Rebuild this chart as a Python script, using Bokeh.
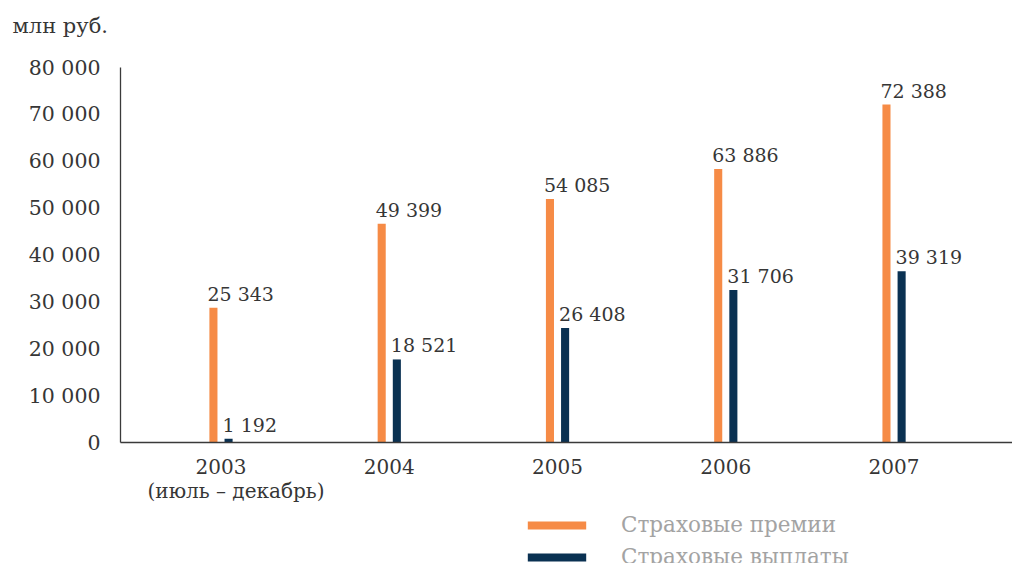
from bokeh.plotting import figure
from bokeh.models import FixedTicker, Legend, LegendItem, ColumnDataSource, GlobalInlineStyleSheet, Label
from bokeh.core.properties import value
from bokeh.embed import file_html
from bokeh.resources import INLINE

# ---- data ----
year_labels = ["2003\n\u2003\u2002(июль – декабрь)", "2004", "2005", "2006", "2007"]
premiums = [28800, 46700, 52000, 58400, 72100]      # bar heights as drawn
payouts = [900, 17800, 24500, 32600, 36600]         # bar heights as drawn
premium_labels = ["25 343", "49 399", "54 085", "63 886", "72 388"]
payout_labels = ["1 192", "18 521", "26 408", "31 706", "39 319"]
y_ticks = [0, 10000, 20000, 30000, 40000, 50000, 60000, 70000, 80000]
y_tick_labels = ["0", "10 000", "20 000", "30 000", "40 000", "50 000", "60 000", "70 000", "80 000"]
series_names = ["Страховые премии", "Страховые выплаты"]
unit_title = "млн руб."

FONT = "DejaVu Serif"
TXT = "#363636"
ORANGE = "#F68B46"
NAVY = "#0A3152"

idx = list(range(len(year_labels)))
off = 0.045
bw = 0.048

# scales: 168.25 px per category, 0.0046937 px per unit on y
X0 = -1.3105          # left edge of canvas
Y_AXIS_X = -0.5973    # where the y axis sits
src_p = ColumnDataSource(dict(x=[i - off for i in idx], top=premiums, lab=premium_labels))
src_v = ColumnDataSource(dict(x=[i + off for i in idx], top=payouts, lab=payout_labels))

p = figure(width=1012, height=563, output_backend="svg", toolbar_location=None,
           x_range=(X0, 4.704), y_range=(-25673, 94275),
           min_border_left=0, min_border_right=0, min_border_top=0, min_border_bottom=0)
p.stylesheets = [GlobalInlineStyleSheet(css="html, body { overflow: hidden; }")]

p.outline_line_color = None
p.grid.visible = False
p.background_fill_color = "white"

r1 = p.vbar(x="x", top="top", width=bw, bottom=0, source=src_p, fill_color=ORANGE, line_color=None)
r2 = p.vbar(x="x", top="top", width=bw, bottom=0, source=src_v, fill_color=NAVY, line_color=None)

for src in (src_p, src_v):
    p.text(x="x", y="top", text="lab", source=src, text_font=value(FONT), text_font_size="19px",
           text_color=TXT, text_align="left", text_baseline="alphabetic",
           x_offset=-6, y_offset=-14)

# y axis at the left
p.yaxis.fixed_location = Y_AXIS_X
p.yaxis.ticker = FixedTicker(ticks=y_ticks)
p.yaxis.major_label_overrides = {t: l for t, l in zip(y_ticks, y_tick_labels)}
p.yaxis.bounds = (0, 80000)
p.yaxis.major_tick_in = 0
p.yaxis.major_tick_out = 0
p.yaxis.minor_tick_in = 0
p.yaxis.minor_tick_out = 0
p.yaxis.major_label_standoff = 20
p.yaxis.axis_line_color = "#3a3a3a"
p.yaxis.axis_line_width = 1.3
p.yaxis.major_label_text_font = FONT
p.yaxis.major_label_text_font_size = "20.5px"
p.yaxis.major_label_text_color = TXT

# x axis at y = 0
p.xaxis.fixed_location = 0
p.xaxis.bounds = (Y_AXIS_X, 4.704)
p.xaxis.ticker = FixedTicker(ticks=idx)
p.xaxis.major_label_overrides = {i: l for i, l in zip(idx, year_labels)}
p.xaxis.major_tick_in = 0
p.xaxis.major_tick_out = 0
p.xaxis.minor_tick_in = 0
p.xaxis.minor_tick_out = 0
p.xaxis.major_label_standoff = 12
p.xaxis.axis_line_color = "#3a3a3a"
p.xaxis.axis_line_width = 1.3
p.xaxis.major_label_text_font = FONT
p.xaxis.major_label_text_font_size = "20px"
p.xaxis.major_label_text_line_height = 1.0
p.xaxis.major_label_text_color = TXT

title = Label(x=X0 + 12 / 168.25, y=88948, text=unit_title, text_font=FONT, text_font_size="21px",
              text_color=TXT, text_align="left", text_baseline="middle")
p.add_layout(title)

legend = Legend(items=[LegendItem(label=series_names[0], renderers=[r1]),
                       LegendItem(label=series_names[1], renderers=[r2])],
                location=(520, -6), orientation="vertical",
                glyph_width=73, glyph_height=10, label_standoff=28,
                label_height=22, spacing=7, padding=0, margin=0,
                border_line_color=None, background_fill_alpha=0,
                label_text_font=FONT, label_text_font_size="21.5px", label_text_color="#a3a3a3")
p.add_layout(legend, "center")

open("out.html", "w").write(file_html(p, INLINE))
